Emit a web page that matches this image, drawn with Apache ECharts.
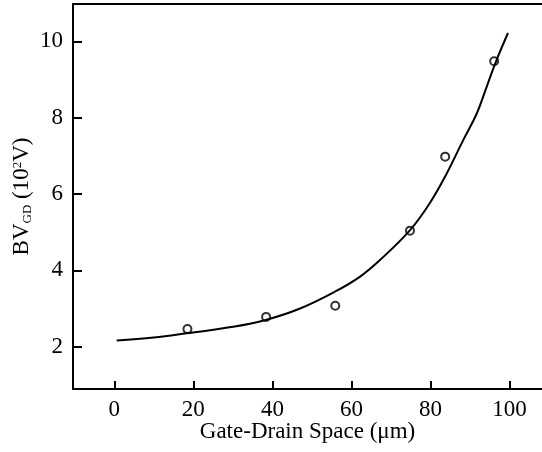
<!DOCTYPE html>
<html>
<head>
<meta charset="utf-8">
<script src="https://cdn.jsdelivr.net/npm/echarts@6/dist/echarts.min.js"></script>
<style>
  html, body { margin: 0; padding: 0; background: #fff; }
  #chart { width: 542px; height: 452px; }
</style>
</head>
<body>
<div id="chart"></div>
<script>
// measured points (gate-drain space in um, breakdown voltage in 10^2 V)
var measX = [18.5, 38.4, 55.9, 74.8, 83.7, 96.1];
var measY = [2.46, 2.78, 3.07, 5.04, 6.98, 9.48];

// fitted curve
var fitX = [0.6, 10, 18.3, 30, 38.3, 47, 55.8, 62.1, 67.2, 74.7, 79.8, 84.1, 88.3, 91.7, 94.2, 96.7, 99.6];
var fitY = [2.16, 2.24, 2.35, 2.52, 2.70, 3.0, 3.44, 3.83, 4.27, 5.04, 5.76, 6.54, 7.42, 8.11, 8.81, 9.51, 10.22];

var xTicks = [0, 20, 40, 60, 80, 100];
var yTicks = [2, 4, 6, 8, 10];

var font = '"Liberation Serif", "DejaVu Serif", serif';

function pairs(xs, ys) {
    var out = [];
    for (var i = 0; i < xs.length; i++) {
        out.push([xs[i], ys[i]]);
    }
    return out;
}

var chart = echarts.init(document.getElementById('chart'));

var option = {
    animation: false,
    backgroundColor: '#fff',
    grid: { left: 73, right: 0, top: 4, bottom: 63, containLabel: false, outerBoundsMode: 'none' },
    xAxis: [
        {
            type: 'value',
            min: -10.45,
            max: 108.2,
            name: 'Gate-Drain Space (\u03bcm)',
            nameLocation: 'middle',
            nameGap: 31,
            nameMoveOverlap: false,
            nameTextStyle: { fontFamily: font, fontSize: 23, color: '#000' },
            axisLine: { onZero: false, lineStyle: { color: '#000', width: 2 } },
            axisTick: { inside: true, length: 8, customValues: xTicks, lineStyle: { color: '#000', width: 2 } },
            axisLabel: { customValues: xTicks, margin: 9, fontFamily: font, fontSize: 23, color: '#000' },
            splitLine: { show: false }
        },
        {
            type: 'value',
            position: 'top',
            min: -10.45,
            max: 108.2,
            axisLine: { show: true, onZero: false, lineStyle: { color: '#000', width: 2 } },
            axisTick: { show: false },
            axisLabel: { show: false },
            splitLine: { show: false }
        }
    ],
    yAxis: {
        type: 'value',
        min: 0.89,
        max: 10.98,
        name: '{a|BV}{s|GD}{a| (10}{p|2}{a|V)}',
        nameLocation: 'middle',
        nameGap: 37,
        nameMoveOverlap: false,
        nameRotate: 90,
        nameTextStyle: {
            rich: {
                a: { fontFamily: font, fontSize: 23, color: '#000', lineHeight: 28, verticalAlign: 'middle' },
                s: { fontFamily: font, fontSize: 13, color: '#000', lineHeight: 28, verticalAlign: 'bottom', padding: [0, 0, 2, 0] },
                p: { fontFamily: font, fontSize: 13, color: '#000', lineHeight: 28, verticalAlign: 'top', padding: [3, 0, 0, 0] }
            }
        },
        axisLine: { show: true, onZero: false, lineStyle: { color: '#000', width: 2 } },
        axisTick: { show: true, inside: true, length: 9, customValues: yTicks, lineStyle: { color: '#000', width: 2 } },
        axisLabel: { customValues: yTicks, margin: 10, fontFamily: font, fontSize: 23, color: '#000' },
        splitLine: { show: false }
    },
    series: [
        {
            name: 'fit',
            type: 'line',
            data: pairs(fitX, fitY),
            smooth: 0.4,
            showSymbol: false,
            lineStyle: { color: '#000', width: 2 }
        },
        {
            name: 'measured',
            type: 'scatter',
            data: pairs(measX, measY),
            symbol: 'circle',
            symbolSize: 8,
            itemStyle: { color: '#fff', borderColor: '#000', borderWidth: 2 }
        }
    ]
};

chart.setOption(option);
</script>
</body>
</html>
